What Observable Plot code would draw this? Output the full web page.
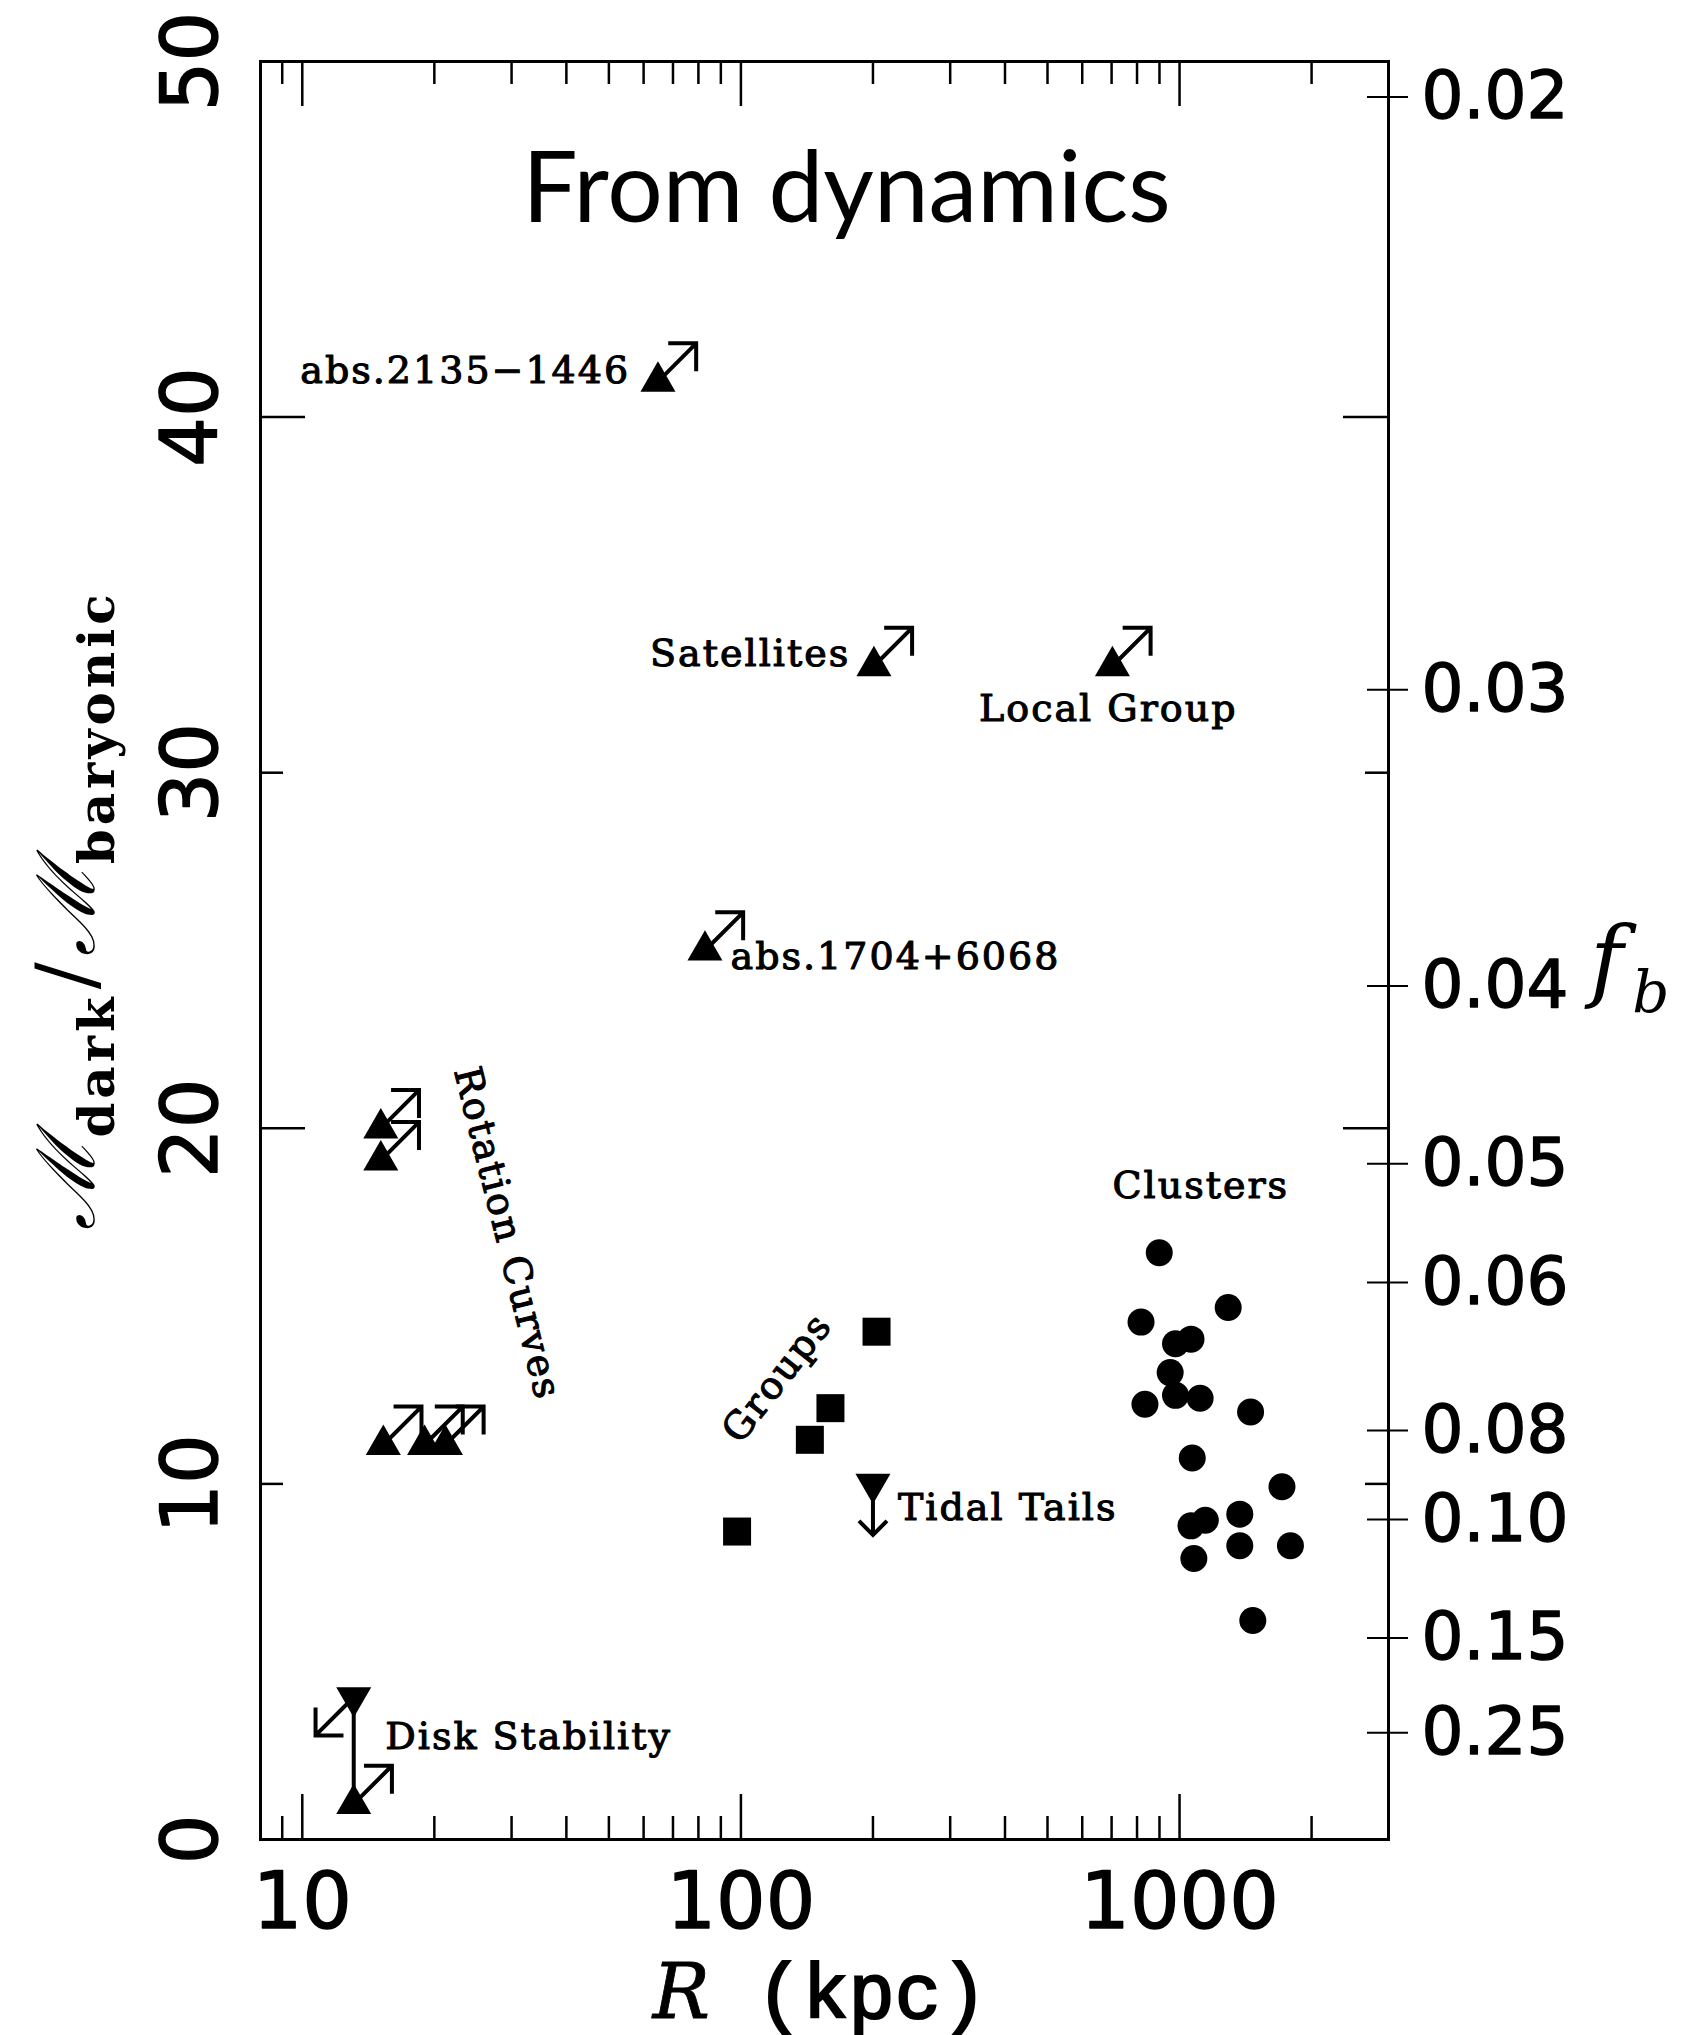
<!DOCTYPE html>
<html>
<head>
<meta charset="utf-8">
<script src="https://cdn.jsdelivr.net/npm/d3@7"></script>
<script src="https://cdn.jsdelivr.net/npm/@observablehq/plot@0.6"></script>
<style>
  html, body { margin: 0; padding: 0; background: #ffffff; }
  #chart svg { display: block; }
  g[font-family="DejaVu Serif"] { letter-spacing: 2px; }
</style>
</head>
<body>
<div id="chart"></div>
<script>
// ---------------- data ----------------
// Clusters (filled circles): R in kpc, M_dark / M_baryonic
const clusterR = [899, 1291, 817, 979, 1062, 952, 834, 979, 1114, 1452, 1069, 1712, 1145, 1062, 1372, 1372, 1790, 1078, 1469];
const clusterRatio = [16.5, 14.96, 14.55, 13.94, 14.07, 13.13, 12.24, 12.49, 12.41, 12.02, 10.73, 9.92, 8.98, 8.82, 9.15, 8.26, 8.26, 7.90, 6.16];

// Groups (filled squares)
const groupR = [98, 143.6, 160, 203.8];
const groupRatio = [8.66, 11.24, 12.13, 14.28];

// Lower limits (filled up-triangles with up-right arrows)
const lowerLimitR = [64.7, 201, 703, 82.8, 15.1, 15.1, 15.3, 19.0, 21.2, 13.1];
const lowerLimitRatio = [41.0, 33.0, 33.0, 25.0, 20.0, 19.1, 11.1, 11.1, 11.1, 1.0];

// Upper limits (filled down-triangles): Disk Stability top, Tidal Tails
const upperLimitName = ["Disk Stability", "Tidal Tails"];
const upperLimitR = [13.1, 200];
const upperLimitRatio = [4.0, 10.0];

// Disk stability range
const diskR = [13.1];
const diskLow = [1.0];
const diskHigh = [4.0];

// Annotations
const labelEndText = ["abs.2135\u22121446", "Satellites"];
const labelEndR = [55.9, 177.5];
const labelEndRatio = [40.95, 33.0];

const labelStartText = ["Local Group", "abs.1704+6068", "Tidal Tails", "Disk Stability"];
const labelStartR = [349, 94.7, 228, 15.46];
const labelStartRatio = [31.44, 24.48, 8.98, 2.545];

const labelMidText = ["Rotation Curves", "Groups", "Clusters"];
const labelMidR = [29.3, 121, 1118];
const labelMidRatio = [17.04, 12.98, 18.37];
const labelMidAngle = [76, -52, 0];

// Ticks
const xMajorTicks = [10, 100, 1000];
const xMinorTicks = [9, 20, 30, 40, 50, 60, 70, 80, 90, 200, 300, 400, 500, 600, 700, 800, 900, 2000];
const yTickLabels = [0, 10, 20, 30, 40, 50];
const yLongTicks = [20, 40];
const yShortTicks = [10, 30];
const fbTickLabels = ["0.02", "0.03", "0.04", "0.05", "0.06", "0.08", "0.10", "0.15", "0.25"];

const title = "From dynamics";

// ---------------- layout ----------------
const W = 1696, H = 2035;
const mL = 260, mR = 308, mT = 61, mB = 196;
const fw = W - mL - mR;
const fh = H - mT - mB;
const MAJOR = 45, MINOR = 23;
const fbToRatio = (s) => 1 / parseFloat(s) - 1;

const triangleDown = {
  draw(context, size) {
    const y = Math.sqrt(size / (3 * Math.sqrt(3)));
    context.moveTo(0, 2 * y);
    context.lineTo(-Math.sqrt(3) * y, -y);
    context.lineTo(Math.sqrt(3) * y, -y);
    context.closePath();
  }
};

const idx = (a) => d3.range(a.length);
const annot = {fontFamily: "DejaVu Serif", fontSize: 38, fill: "black", stroke: "black", strokeWidth: 1.1};
const tickFont = {fontFamily: "DejaVu Sans", fill: "black", stroke: "black", strokeWidth: 1.4};
const tickStyle = {stroke: "black", strokeWidth: 2.5};
const arrowStyle = {stroke: "black", strokeWidth: 4, strokeLinecap: "butt", strokeLinejoin: "miter", anchor: "start"};

const plot = Plot.plot({
  width: W,
  height: H,
  marginLeft: mL,
  marginRight: mR,
  marginTop: mT,
  marginBottom: mB,
  x: {type: "log", domain: [8.03, 2995], axis: null},
  y: {domain: [0, 50], axis: null},
  style: {background: "white", color: "black", overflow: "visible"},
  marks: [
    // ticks: bottom / top
    Plot.ruleX(xMajorTicks, {x: d => d, insetTop: fh - MAJOR, ...tickStyle}),
    Plot.ruleX(xMinorTicks, {x: d => d, insetTop: fh - MINOR, ...tickStyle}),
    Plot.ruleX(xMajorTicks, {x: d => d, insetBottom: fh - MAJOR, ...tickStyle}),
    Plot.ruleX(xMinorTicks, {x: d => d, insetBottom: fh - MINOR, ...tickStyle}),
    // ticks: left
    Plot.ruleY(yLongTicks, {y: d => d, insetRight: fw - MAJOR, ...tickStyle}),
    Plot.ruleY(yShortTicks, {y: d => d, insetRight: fw - MINOR, ...tickStyle}),
    // ticks: right (mirrored left ticks)
    Plot.ruleY(yLongTicks, {y: d => d, insetLeft: fw - MAJOR, ...tickStyle}),
    Plot.ruleY(yShortTicks, {y: d => d, insetLeft: fw - MINOR, ...tickStyle}),
    // ticks: right f_b axis (crossing the frame)
    Plot.ruleY(fbTickLabels, {y: fbToRatio, insetLeft: fw - 21, insetRight: -20, stroke: "black", strokeWidth: 2}),
    Plot.frame({stroke: "black", strokeWidth: 3}),

    // tick labels
    Plot.text(xMajorTicks, {x: d => d, text: d => String(d), frameAnchor: "bottom", lineAnchor: "bottom", dy: 88,
      fontSize: 78, ...tickFont}),
    Plot.text(yTickLabels, {y: d => d, text: d => String(d), frameAnchor: "left", rotate: -90, textAnchor: "middle",
      lineAnchor: "bottom", dx: -44, fontSize: 78, ...tickFont}),
    Plot.text(fbTickLabels, {y: fbToRatio, text: d => d, frameAnchor: "right", textAnchor: "start", lineAnchor: "middle",
      dx: 33, fontSize: 66, ...tickFont}),

    // disk stability connecting line
    Plot.ruleX(idx(diskR), {x: i => diskR[i], y1: i => diskLow[i], y2: i => diskHigh[i], stroke: "black", strokeWidth: 4}),

    // arrows
    Plot.vector(idx(lowerLimitR), {x: i => lowerLimitR[i], y: i => lowerLimitRatio[i], length: 54, rotate: 45, r: 6.4, ...arrowStyle}),
    Plot.vector(idx(upperLimitR).filter(i => upperLimitName[i] === "Disk Stability"), {x: i => upperLimitR[i], y: i => upperLimitRatio[i],
      length: 54, rotate: 225, r: 6.4, ...arrowStyle}),
    Plot.vector(idx(upperLimitR).filter(i => upperLimitName[i] === "Tidal Tails"), {x: i => upperLimitR[i], y: i => upperLimitRatio[i],
      length: 51, rotate: 180, r: 4.8, ...arrowStyle}),

    // symbols
    Plot.dot(idx(lowerLimitR), {x: i => lowerLimitR[i], y: i => lowerLimitRatio[i], symbol: "triangle", r: 13, fill: "black", stroke: "none"}),
    Plot.dot(idx(upperLimitR), {x: i => upperLimitR[i], y: i => upperLimitRatio[i], symbol: triangleDown, r: 13, fill: "black", stroke: "none"}),
    Plot.dot(idx(groupR), {x: i => groupR[i], y: i => groupRatio[i], symbol: "square", r: 15.8, fill: "black", stroke: "none"}),
    Plot.dot(idx(clusterR), {x: i => clusterR[i], y: i => clusterRatio[i], r: 13.5, fill: "black", stroke: "none"}),

    // annotations
    Plot.text(idx(labelEndText), {x: i => labelEndR[i], y: i => labelEndRatio[i], text: i => labelEndText[i],
      textAnchor: "end", lineAnchor: "bottom", ...annot}),
    Plot.text(idx(labelStartText), {x: i => labelStartR[i], y: i => labelStartRatio[i], text: i => labelStartText[i],
      textAnchor: "start", lineAnchor: "bottom", ...annot}),
    Plot.text(idx(labelMidText), {x: i => labelMidR[i], y: i => labelMidRatio[i], text: i => labelMidText[i],
      rotate: i => labelMidAngle[i], textAnchor: "middle", lineAnchor: "middle", ...annot}),

    // title inside the frame
    Plot.text([title], {text: d => d, frameAnchor: "top", lineAnchor: "bottom", dx: 22, dy: 160,
      fontFamily: "Lato", fontSize: 98, fill: "black"})
  ]
});

document.getElementById("chart").appendChild(plot);

// ---------------- axis titles (with subscripts) ----------------
const svg = d3.select(plot);

// left: M_dark / M_baryonic (rotated)
const lt = svg.append("text")
  .attr("transform", "translate(94,910) rotate(-90)")
  .attr("text-anchor", "middle")
  .attr("fill", "black")
  .attr("font-family", "DejaVu Serif");
lt.append("tspan").attr("font-size", 80).attr("font-style", "italic").text("\u2133");
lt.append("tspan").attr("font-size", 50).attr("font-weight", "bold").attr("dy", 20).attr("letter-spacing", 4).text("dark");
lt.append("tspan").attr("font-size", 80).attr("dy", -20).attr("dx", 4).text("/");
lt.append("tspan").attr("font-size", 80).attr("font-style", "italic").attr("dx", 6).text("\u2133");
lt.append("tspan").attr("font-size", 50).attr("font-weight", "bold").attr("dy", 20).attr("letter-spacing", 4).text("baryonic");

// bottom: R (kpc)
const bt = svg.append("text")
  .attr("x", 820).attr("y", 2018)
  .attr("text-anchor", "middle")
  .attr("fill", "black")
  .attr("stroke", "black");
bt.append("tspan").attr("font-family", "DejaVu Serif").attr("font-style", "italic").attr("font-size", 76)
  .attr("stroke-width", 0.8).text("R");
bt.append("tspan").attr("font-family", "Liberation Mono").attr("font-size", 77).attr("stroke-width", 2.2).text(" (kpc)");

// right: f_b
const rt = svg.append("text")
  .attr("x", 1590).attr("y", 990)
  .attr("text-anchor", "start")
  .attr("fill", "black")
  .attr("font-family", "DejaVu Serif")
  .attr("font-style", "italic");
rt.append("tspan").attr("font-size", 90).text("f");
rt.append("tspan").attr("font-size", 58).attr("dy", 22).attr("dx", 9).text("b");
</script>
</body>
</html>
